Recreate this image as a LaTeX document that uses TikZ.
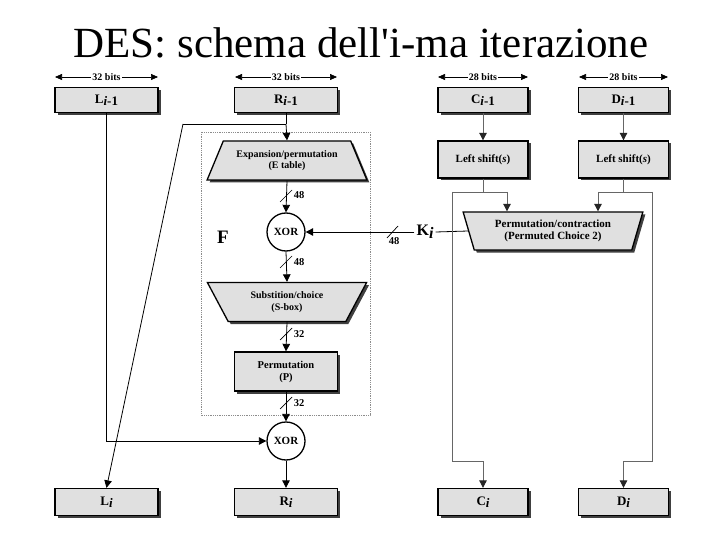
\documentclass[tikz,border=0pt]{standalone}
\usepackage{fontspec}
\setmainfont{Liberation Serif}
\usetikzlibrary{shapes.geometric,arrows.meta,shadows}
\newcommand{\mysub}[2]{#1\raisebox{-0.35ex}{#2}}
\begin{document}
\begin{tikzpicture}[x=1pt,y=-1pt,
  every node/.style={font=\bfseries},
  shad/.style={drop shadow={shadow xshift=2.5pt,shadow yshift=-2.5pt,fill=black!75,opacity=1}},
  blk/.style={draw=black,line width=1.3pt,fill=black!12,shad,inner sep=0pt,align=center,font=\bfseries\fontsize{11}{12}\selectfont},
  lbl/.style={blk,font=\bfseries\fontsize{13}{14}\selectfont},
  trapup/.style={blk,trapezium,trapezium stretches=true,trapezium left angle=58,trapezium right angle=58,font=\bfseries\fontsize{10}{11.5}\selectfont},
  trapdown/.style={trapup,shape border rotate=180},
  xorc/.style={draw=black,line width=1.3pt,fill=white,circle,minimum size=38pt,inner sep=0pt,font=\bfseries\fontsize{11}{12}\selectfont},
  arr/.style={-{Triangle[length=7.5pt,width=7.5pt]},line width=0.8pt},
  grarr/.style={-{Triangle[length=7.5pt,width=7.5pt,color=black!85]},line width=0.8pt,draw=black!60},
  gr/.style={line width=0.8pt,draw=black!60},
  ln/.style={line width=0.8pt},
  bits/.style={{Triangle[length=7pt,width=6pt]}-{Triangle[length=7pt,width=6pt]},line width=0.6pt},
  bitlbl/.style={fill=white,inner sep=1pt,font=\bfseries\fontsize{10}{11}\selectfont},
  nlab/.style={font=\bfseries\fontsize{10.5}{11}\selectfont,inner sep=0pt}
]
\useasboundingbox[fill=white] (0,0) rectangle (720,540);

% title
\node[font=\fontsize{43}{48}\selectfont,anchor=base] (title) at (361,58) {DES: schema dell\textquotesingle i-ma iterazione};

% F region
\draw[black!45,densely dotted,line width=0.8pt] (201,132) rectangle (370,415);
\node[font=\bfseries\fontsize{19}{20}\selectfont] (F) at (223,237) {F};

% top row
\node[lbl,minimum width=103pt,minimum height=25pt] (Lp) at (106.5,100) {\mysub{L}{\textit{i}-1}};
\node[lbl,minimum width=103pt,minimum height=25pt] (Rp) at (286,100) {\mysub{R}{\textit{i}-1}};
\node[lbl,minimum width=90pt,minimum height=25pt] (Cp) at (483,100) {\mysub{C}{\textit{i}-1}};
\node[lbl,minimum width=90pt,minimum height=25pt] (Dp) at (623.5,100) {\mysub{D}{\textit{i}-1}};

% bits
\coordinate (b1l) at (55,77); \coordinate (b1r) at (158,77);
\coordinate (b2l) at (235,77); \coordinate (b2r) at (337,77);
\coordinate (b3l) at (438,77); \coordinate (b3r) at (528,77);
\coordinate (b4l) at (579,77); \coordinate (b4r) at (668,77);
\draw[bits] (b1l) -- (b1r) node[midway,bitlbl] (t1) {32 bits};
\draw[bits] (b2l) -- (b2r) node[midway,bitlbl] (t2) {32 bits};
\draw[bits] (b3l) -- (b3r) node[midway,bitlbl] (t3) {28 bits};
\draw[bits] (b4l) -- (b4r) node[midway,bitlbl] (t4) {28 bits};

% left shifts
\node[blk,minimum width=90pt,minimum height=37pt] (LSc) at (483,159.5) {Left shift(\textit{s})};
\node[blk,minimum width=90pt,minimum height=37pt] (LSd) at (623.5,159.5) {Left shift(\textit{s})};

% F internals
\node[trapup,minimum width=160pt,minimum height=39pt] (Exp) at (287,160.5) {Expansion/permutation\\(E table)};
\node[xorc] (X1) at (286,232) {XOR};
\node[trapdown,minimum width=160pt,minimum height=39pt] (Sub) at (287,302) {Substition/choice\\(S-box)};
\node[blk,minimum width=103pt,minimum height=39pt,font=\bfseries\fontsize{10.5}{12}\selectfont] (P) at (286,371.5) {Permutation\\(P)};
\node[xorc] (X2) at (286,441) {XOR};

% permuted choice 2
\node[trapdown,trapezium left angle=70,trapezium right angle=70,minimum width=180pt,minimum height=38pt,font=\bfseries\fontsize{11}{12.5}\selectfont] (PC) at (553,231) {Permutation/contraction\\(Permuted Choice 2)};
\node[font=\bfseries\fontsize{16}{17}\selectfont,inner sep=2pt] (K) at (425,232) {\mysub{K}{\textit{i}}};

% bottom row
\node[lbl,minimum width=103pt,minimum height=27pt] (Li) at (106.5,502) {\mysub{L}{\textit{i}}};
\node[lbl,minimum width=103pt,minimum height=27pt] (Ri) at (286,502) {\mysub{R}{\textit{i}}};
\node[lbl,minimum width=90pt,minimum height=27pt] (Ci) at (483,502) {\mysub{C}{\textit{i}}};
\node[lbl,minimum width=90pt,minimum height=27pt] (Di) at (623.5,502) {\mysub{D}{\textit{i}}};

% R/L path
\coordinate (rs) at (286,124);
\coordinate (rb) at (183,124);
\draw[ln] (Rp.south) -- (rs);
\draw[arr] (rs) -- (Exp.north);
\draw[ln] (rs) -- (rb);
\draw[arr] (rb) -- (Li.north);
\draw[arr] (Lp.south) |- (X2.west);
\draw[arr] (Exp.south) -- (X1.north);
\draw[arr] (X1.south) -- (Sub.north);
\draw[arr] (Sub.south) -- (P.north);
\draw[arr] (P.south) -- (X2.north);
\draw[arr] (X2.south) -- (Ri.north);

% slashes
\draw[line width=0.7pt] (280,202) -- (292,190);
\node[nlab] (s1) at (299,195) {48};
\draw[line width=0.7pt] (280,268) -- (292,256);
\node[nlab] (s2) at (299,262) {48};
\draw[line width=0.7pt] (280,340) -- (292,328);
\node[nlab] (s3) at (299,334) {32};
\draw[line width=0.7pt] (280,409) -- (292,397);
\node[nlab] (s4) at (299,403) {32};
\draw[line width=0.7pt] (387,238) -- (398,226);
\node[nlab] (s5) at (394,241) {48};

% K path
\draw[ln] (PC.west) -- (K.east);
\draw[arr] (K.west) -- (X1.east);

% C/D path
\coordinate (cs) at (483,192);
\coordinate (cl) at (452,192);
\coordinate (cr) at (507,192);
\coordinate (cb) at (452,461);
\coordinate (cc) at (483,461);
\coordinate (ds) at (623.5,192);
\coordinate (dl) at (598,192);
\coordinate (dr) at (652,192);
\coordinate (db) at (652,461);
\coordinate (dc) at (623.5,461);
\draw[grarr] (Cp.south) -- (LSc.north);
\draw[grarr] (Dp.south) -- (LSd.north);
\draw[gr] (LSc.south) -- (cs);
\draw[gr] (cl) -- (cr);
\draw[grarr] (cr) -- (cr |- PC.north);
\draw[gr] (cl) -- (cb) -- (cc);
\draw[grarr] (cc) -- (Ci.north);
\draw[gr] (LSd.south) -- (ds);
\draw[gr] (dl) -- (dr);
\draw[grarr] (dl) -- (dl |- PC.north);
\draw[gr] (dr) -- (db) -- (dc);
\draw[grarr] (dc) -- (Di.north);
\end{tikzpicture}
\end{document}
